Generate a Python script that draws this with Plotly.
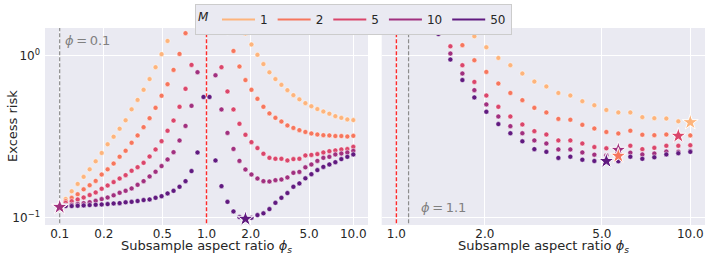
import plotly.graph_objects as go

# ---------------- data ----------------
phi_s = [0.1, 0.1099, 0.1207, 0.1326, 0.1456, 0.16, 0.1758, 0.1931, 0.2121, 0.233,
         0.256, 0.2812, 0.3089, 0.3393, 0.3728, 0.4095, 0.4498, 0.4942, 0.5429, 0.5964,
         0.6551, 0.7197, 0.7906, 0.8685, 0.9541, 1.0481, 1.1514, 1.2649, 1.3895, 1.5265,
         1.6769, 1.8421, 2.0237, 2.2231, 2.4422, 2.6829, 2.9473, 3.2377, 3.5568, 3.9073,
         4.2924, 4.7154, 5.1801, 5.6906, 6.2514, 6.8674, 7.5442, 8.2877, 9.1044, 10.0]
phi_s_right = phi_s[27:]

M_values = [1, 2, 5, 10, 50]
colors = ["#FDB47C", "#F6765D", "#DA466B", "#A0307F", "#601A80"]

# left panel: phi = 0.1
risk_left_M1 = [0.116, 0.130, 0.145, 0.161, 0.178, 0.198, 0.222, 0.250, 0.283, 0.315,
                0.353, 0.398, 0.465, 0.532, 0.614, 0.715, 0.847, 1.02, 1.23, None,
                None, None, None, None, None, None, None, None, None, None,
                None, 1.37, 1.17, 1.01, 0.885, 0.787, 0.715, 0.659, 0.611, 0.569,
                0.536, 0.508, 0.486, 0.467, 0.451, 0.437, 0.422, 0.412, 0.403, 0.399]
risk_left_M2 = [0.116, 0.126, 0.132, 0.139, 0.149, 0.158, 0.168, 0.184, 0.198, 0.215,
                0.237, 0.258, 0.289, 0.321, 0.361, 0.410, 0.475, 0.564, 0.665, 0.815,
                1.023, 1.374, None, None, None, None, None, None, 1.387, 1.067,
                0.855, 0.705, 0.614, 0.540, 0.482, 0.439, 0.412, 0.391, 0.370, 0.357,
                0.346, 0.337, 0.330, 0.325, 0.322, 0.321, 0.318, 0.318, 0.316, 0.319]
risk_left_M5 = [0.116, 0.123, 0.1259, 0.1291, 0.1327, 0.1374, 0.1426, 0.1503, 0.1574, 0.1652,
                0.1738, 0.1824, 0.1941, 0.2042, 0.2173, 0.2377, 0.263, 0.2958, 0.3428, 0.3963,
                0.4819, 0.6223, 0.875, 1.469, None, None, 1.413, 0.8472, 0.5998, 0.4645,
                0.3784, 0.3236, 0.2917, 0.2679, 0.2472, 0.2333, 0.2301, 0.2301, 0.2249, 0.2291,
                0.2301, 0.2415, 0.2432, 0.246, 0.2518, 0.2564, 0.2594, 0.263, 0.2642, 0.2729]
risk_left_M10 = [0.116, 0.1186, 0.1197, 0.1208, 0.1225, 0.1242, 0.1265, 0.1297, 0.1327, 0.1368,
                 0.1419, 0.1459, 0.151, 0.1589, 0.1675, 0.1791, 0.1914, 0.2075, 0.228, 0.2529,
                 0.2985, 0.3673, 0.4887, 0.7889, None, None, 0.7551, 0.4645, 0.3327, 0.2649,
                 0.2234, 0.1977, 0.1841, 0.1738, 0.1675, 0.1667, 0.1698, 0.1714, 0.1766, 0.1884,
                 0.191, 0.2037, 0.2123, 0.2234, 0.2333, 0.2366, 0.2449, 0.2483, 0.2518, 0.2576]
risk_left_M50 = [0.116, 0.1175, 0.1175, 0.118, 0.1186, 0.1191, 0.1197, 0.1202, 0.1208, 0.1219,
                 0.1225, 0.1239, 0.1247, 0.1262, 0.1279, 0.1291, 0.1321, 0.1352, 0.1406, 0.1459,
                 0.1545, 0.1675, 0.1932, 0.2518, 0.5546, 0.5546, 0.2249, 0.156, 0.1247, 0.1089,
                 0.1005, 0.0979, 0.0995, 0.1033, 0.1059, 0.1125, 0.123, 0.1321, 0.1413, 0.1545,
                 0.1622, 0.1742, 0.1849, 0.1959, 0.2051, 0.2123, 0.2193, 0.2291, 0.2366, 0.2449]

# right panel: phi = 1.1 (phi_s from 1.26 to 10)
risk_right_M1 = [None, None, None, None, 1.315, 1.125, 0.966, 0.871, 0.774, 0.690,
                 0.644, 0.587, 0.566, 0.522, 0.493, 0.461, 0.445, 0.445, 0.416, 0.410,
                 0.408, 0.392, 0.387]
risk_right_M2 = [None, None, 1.469, 1.159, 0.935, 0.792, 0.671, 0.587, 0.530, 0.475,
                 0.445, 0.406, 0.401, 0.373, 0.354, 0.337, 0.330, 0.343, 0.324, 0.322,
                 0.325, 0.319, 0.321]
risk_right_M5 = [None, 1.469, 1.140, 0.871, 0.687, 0.566, 0.482, 0.420, 0.375, 0.341,
                 0.325, 0.299, 0.299, 0.286, 0.272, 0.267, 0.261, 0.277, 0.264, 0.269,
                 0.277, 0.277, 0.279]
risk_right_M10 = [None, 1.469, 1.028, 0.774, 0.611, 0.499, 0.420, 0.366, 0.331, 0.299,
                  0.286, 0.263, 0.263, 0.252, 0.244, 0.242, 0.239, 0.251, 0.245, 0.248,
                  0.255, 0.254, 0.257]
risk_right_M50 = [None, 1.358, 0.944, 0.705, 0.551, 0.449, 0.377, 0.331, 0.295, 0.264,
                  0.254, 0.233, 0.237, 0.227, 0.223, 0.223, 0.222, 0.237, 0.230, 0.235,
                  0.245, 0.249, 0.254]

# optimum markers (stars)
star_left_x = [0.1, 0.1, 0.1, 0.1, 1.8421]
star_left_y = [0.116, 0.116, 0.116, 0.116, 0.0979]
star_M = [1, 2, 5, 10, 50]
star_right_x = [10.0, 9.1044, 5.6906, 5.6906, 5.1801]
star_right_y = [0.387, 0.319, 0.261, 0.240, 0.223]
star_right_M = [1, 5, 10, 2, 50]

x_ticks_left = [0.1, 0.2, 0.5, 1.0, 2.0, 5.0, 10.0]
x_ticklabels_left = ["0.1", "0.2", "0.5", "1.0", "2.0", "5.0", "10.0"]
x_ticks_right = [1.0, 2.0, 5.0, 10.0]
x_ticklabels_right = ["1.0", "2.0", "5.0", "10.0"]
y_ticks = [0.1, 1.0]
y_ticklabels = ["10<sup>−1</sup>", "10<sup>0</sup>"]

# ---------------- figure ----------------
fig = go.Figure()
left_series = [risk_left_M1, risk_left_M2, risk_left_M5, risk_left_M10, risk_left_M50]
right_series = [risk_right_M1, risk_right_M2, risk_right_M5, risk_right_M10, risk_right_M50]
cmap = dict(zip(M_values, colors))

GRAY = "#8c8c8c"
RED = "#ff2a2a"
# reference lines (phi and interpolation threshold 1)
fig.add_trace(go.Scatter(x=[0.1, 0.1], y=[0.01, 10], mode="lines", xaxis="x", yaxis="y",
                         line=dict(color=GRAY, width=1.2, dash="4px,2px"), showlegend=False, hoverinfo="skip"))
fig.add_trace(go.Scatter(x=[1.0, 1.0], y=[0.01, 10], mode="lines", xaxis="x", yaxis="y",
                         line=dict(color=RED, width=1.4, dash="4px,2px"), showlegend=False, hoverinfo="skip"))
fig.add_trace(go.Scatter(x=[1.0, 1.0], y=[0.01, 10], mode="lines", xaxis="x2", yaxis="y2",
                         line=dict(color=RED, width=1.4, dash="4px,2px"), showlegend=False, hoverinfo="skip"))
fig.add_trace(go.Scatter(x=[1.1, 1.1], y=[0.01, 10], mode="lines", xaxis="x2", yaxis="y2",
                         line=dict(color=GRAY, width=1.2, dash="4px,2px"), showlegend=False, hoverinfo="skip"))

for M, c, yl, yr in zip(M_values, colors, left_series, right_series):
    fig.add_trace(go.Scatter(x=phi_s, y=yl, mode="markers", xaxis="x", yaxis="y",
                             marker=dict(color=c, size=5, line=dict(color="white", width=0.5)),
                             showlegend=False))
    fig.add_trace(go.Scatter(x=phi_s_right, y=yr, mode="markers", xaxis="x2", yaxis="y2",
                             marker=dict(color=c, size=5, line=dict(color="white", width=0.5)),
                             showlegend=False))

for x, y, M in zip(star_left_x, star_left_y, star_M):
    fig.add_trace(go.Scatter(x=[x], y=[y], mode="markers", xaxis="x", yaxis="y",
                             marker=dict(symbol="star", color=cmap[M], size=12, line=dict(color="white", width=1)),
                             showlegend=False, cliponaxis=False))
for x, y, M in zip(star_right_x, star_right_y, star_right_M):
    fig.add_trace(go.Scatter(x=[x], y=[y], mode="markers", xaxis="x2", yaxis="y2",
                             marker=dict(symbol="star", color=cmap[M], size=12, line=dict(color="white", width=1)),
                             showlegend=False, cliponaxis=False))

# legend entries
for M, c in zip(M_values, colors):
    fig.add_trace(go.Scatter(x=[None], y=[None], mode="lines", name=str(M),
                             line=dict(color=c, width=1.8), xaxis="x", yaxis="y"))

W, H = 706, 255
axis_common = dict(type="log", showgrid=True, gridcolor="white", gridwidth=1, zeroline=False,
                   showline=False, ticks="", ticklabelstandoff=0,
                   tickfont=dict(family="DejaVu Sans", size=12, color="#262626"))
xtitle = "Subsample aspect ratio <i>ϕ</i><sub><i>s</i></sub>"
fig.update_layout(
    width=W, height=H,
    margin=dict(l=0, r=0, t=0, b=0, autoexpand=False),
    paper_bgcolor="white", plot_bgcolor="#EAEAF2",
    font=dict(family="DejaVu Sans", color="#262626"),
    xaxis=dict(axis_common, domain=[45 / W, 368 / W], range=[-1.1, 1.1],
               tickvals=x_ticks_left, ticktext=x_ticklabels_left, anchor="y"),
    yaxis=dict(axis_common, domain=[1 - 225 / H, 1 - 28 / H], range=[-1.047, 0.17],
               tickvals=y_ticks, ticktext=y_ticklabels, anchor="x", ticklabelstandoff=4),
    xaxis2=dict(axis_common, domain=[381.7 / W, 705 / W], range=[-0.05, 1.05],
                tickvals=x_ticks_right, ticktext=x_ticklabels_right, anchor="y2"),
    yaxis2=dict(axis_common, domain=[1 - 225 / H, 1 - 28 / H], range=[-1.047, 0.17],
                tickvals=y_ticks, showticklabels=False, anchor="x2", matches="y"),
    legend=dict(orientation="h", x=195 / W, xanchor="left", y=1 - 4 / H, yanchor="top",
                bgcolor="#EAEAF2", bordercolor="#CCCCCC", borderwidth=1,
                font=dict(size=12, color="#262626"), itemwidth=33,
                title=dict(text="<i>M</i>", font=dict(size=12))),
    annotations=[
        dict(text=xtitle, xref="paper", yref="paper", x=206.5 / W, y=1 - 246 / H,
             xanchor="center", yanchor="middle", showarrow=False, font=dict(size=13, color="#262626")),
        dict(text=xtitle, xref="paper", yref="paper", x=543 / W, y=1 - 246 / H,
             xanchor="center", yanchor="middle", showarrow=False, font=dict(size=13, color="#262626")),
        dict(text="Excess risk", xref="paper", yref="paper", x=12 / W, y=1 - 126 / H,
             xanchor="center", yanchor="middle", textangle=-90, showarrow=False,
             font=dict(size=13, color="#262626")),
        dict(text="<i>ϕ</i>\u2009=\u20090.1", xref="paper", yref="paper", x=63 / W, y=1 - 40 / H,
             xanchor="left", yanchor="middle", showarrow=False, font=dict(size=13, color="#808080")),
        dict(text="<i>ϕ</i>\u2009=\u20091.1", xref="paper", yref="paper", x=419 / W, y=1 - 207 / H,
             xanchor="left", yanchor="middle", showarrow=False, font=dict(size=13, color="#808080")),
    ],
)

fig.write_html("out.html", config={"displayModeBar": False},
               post_script="document.body.style.margin='0';")
